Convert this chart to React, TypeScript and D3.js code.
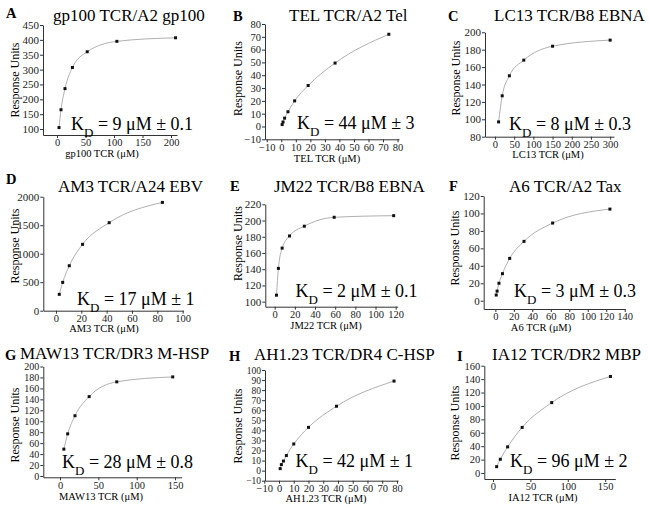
import * as d3 from 'd3';
import { useEffect, useRef } from 'react';

// panel text
const panelLetters = ['A', 'B', 'C', 'D', 'E', 'F', 'G', 'H', 'I'];
const panelTitles = [
  'gp100 TCR/A2 gp100', 'TEL TCR/A2 Tel', 'LC13 TCR/B8 EBNA',
  'AM3 TCR/A24 EBV', 'JM22 TCR/B8 EBNA', 'A6 TCR/A2 Tax',
  'MAW13 TCR/DR3 M-HSP', 'AH1.23 TCR/DR4 C-HSP', 'IA12 TCR/DR2 MBP'
];
const xAxisNames = [
  'gp100 TCR (μM)', 'TEL TCR (μM)', 'LC13 TCR (μM)',
  'AM3 TCR (μM)', 'JM22 TCR (μM)', 'A6 TCR (μM)',
  'MAW13 TCR (μM)', 'AH1.23 TCR (μM)', 'IA12 TCR (μM)'
];
const kdValues = ['9', '44', '8', '17', '2', '3', '28', '42', '96'];
const kdErrors = ['0.1', '3', '0.3', '1', '0.1', '0.3', '0.8', '1', '2'];

// tick labels
const xTicks = [
  [0, 50, 100, 150, 200],
  [-10, 0, 10, 20, 30, 40, 50, 60, 70, 80],
  [0, 50, 100, 150, 200, 250, 300],
  [0, 20, 40, 60, 80, 100],
  [0, 20, 40, 60, 80, 100, 120],
  [0, 20, 40, 60, 80, 100, 120, 140],
  [0, 50, 100, 150],
  [-10, 0, 10, 20, 30, 40, 50, 60, 70, 80],
  [0, 50, 100, 150]
];
const yTicks = [
  [100, 150, 200, 250, 300, 350, 400, 450],
  [-10, 0, 10, 20, 30, 40, 50, 60, 70, 80],
  [80, 100, 120, 140, 160, 180, 200],
  [0, 500, 1000, 1500, 2000],
  [100, 120, 140, 160, 180, 200, 220],
  [0, 20, 40, 60, 80, 100, 120],
  [0, 20, 40, 60, 80, 100, 120, 140, 160, 180, 200],
  [-10, 0, 10, 20, 30, 40, 50, 60, 70, 80, 90, 100],
  [0, 20, 40, 60, 80, 100, 120, 140, 160]
];

// TCR concentration (uM) and response units, one pair per panel
const concA = [3.5, 7, 14, 27, 53, 105, 208];
const respA = [105, 165, 236, 307, 360, 395, 407];
const concB = [0.6, 1.2, 2.3, 4.6, 9.2, 18.5, 37, 74];
const respB = [1.5, 3.5, 6.5, 11.5, 20, 32, 49.5, 72];
const concC = [9.4, 18.8, 37.5, 75, 150, 300];
const respC = [97, 127, 150, 168, 184, 191];
const concD = [2.6, 5.3, 10.5, 21, 42, 84];
const respD = [287, 497, 789, 1164, 1544, 1900];
const concE = [1.8, 3.7, 7.4, 14.7, 29.4, 59, 118];
const respE = [108, 141, 166, 181, 193, 204, 206];
const concF = [0.97, 1.9, 3.9, 7.7, 15.5, 31, 62, 124];
const respF = [6.5, 11, 20, 31, 48.5, 68, 89, 105];
const concG = [5, 10, 19.5, 38, 74, 147];
const respG = [49, 77, 110, 145, 172, 181];
const concH = [0.8, 1.6, 3, 5, 10, 20, 39, 78];
const respH = [2, 6, 9.5, 15, 26.5, 43, 64, 89];
const concI = [4.9, 9.8, 19.6, 39, 78.5, 157];
const respI = [9.5, 20.5, 39, 68, 105, 144];

const concs = [concA, concB, concC, concD, concE, concF, concG, concH, concI];
const resps = [respA, respB, respC, respD, respE, respF, respG, respH, respI];

// page geometry of each panel (pixels) and the axis extents
const layout = [
  { x0: 43, x1: 177, xd: [-24.6, 210.5], y0: 25, y1: 135, yd: [80, 450], yf: 11, letter: [6, 18], title: [53, 20.7], kd: [71, 130], xl: [102, 157], yl: [15, 80] },
  { x0: 265, x1: 399, xd: [-11.2, 81], y0: 24, y1: 139.3, yd: [-10, 80], yf: 10.5, letter: [233, 21], title: [289, 20.7], kd: [297, 129.3], xl: [327, 161.5], yl: [237.7, 78.5] },
  { x0: 485, x1: 614, xd: [-26, 310], y0: 32.3, y1: 136.7, yd: [80, 200], yf: 11, letter: [448, 21], title: [494, 21], kd: [509, 130], xl: [548, 158], yl: [455.3, 78] },
  { x0: 43.3, x1: 183.3, xd: [-10, 100.5], y0: 196.7, y1: 310.7, yd: [0, 2000], yf: 11, letter: [6, 184], title: [58, 191.7], kd: [77, 305], xl: [104, 332], yl: [15, 246] },
  { x0: 265.3, x1: 397.7, xd: [-9.3, 122], y0: 204.3, y1: 306.7, yd: [93.8, 220], yf: 11, letter: [230, 190.7], title: [274, 191.7], kd: [295.5, 296.7], xl: [326, 328.5], yl: [237.7, 243.5] },
  { x0: 483.7, x1: 625, xd: [-12.6, 140.3], y0: 196, y1: 309, yd: [-9.5, 120], yf: 11, letter: [449, 191], title: [509, 191.7], kd: [514, 296.7], xl: [541, 330.5], yl: [454.7, 248] },
  { x0: 43.3, x1: 181.7, xd: [-21.8, 158.7], y0: 366.5, y1: 477.3, yd: [-2.4, 200], yf: 10, letter: [5, 359.5], title: [20, 358.5], kd: [62, 468.3], xl: [101, 499.5], yl: [15, 425] },
  { x0: 265, x1: 398, xd: [-9.5, 80.7], y0: 370, y1: 480.7, yd: [-10, 100], yf: 9.5, letter: [229, 360.5], title: [254, 360], kd: [295.5, 466.7], xl: [326, 502], yl: [237.7, 426] },
  { x0: 484.3, x1: 615.3, xd: [-11.6, 163.5], y0: 365.7, y1: 479, yd: [-8.9, 160], yf: 10.5, letter: [457, 360.5], title: [492, 360], kd: [510, 466.7], xl: [543, 500.5], yl: [454.7, 423] }
];

const serif = '"Liberation Serif", "Times New Roman", Times, serif';

export default function App() {
  const ref = useRef<SVGSVGElement>(null);

  useEffect(() => {
    const svg = d3.select(ref.current);
    svg.selectAll('*').remove();

    layout.forEach((p, i) => {
      const g = svg.append('g');
      const x = d3.scaleLinear().domain(p.xd).range([p.x0, p.x1]);
      const y = d3.scaleLinear().domain(p.yd).range([p.y1, p.y0]);

      const xAxis = g.append('g')
        .attr('transform', `translate(0,${p.y1})`)
        .call(d3.axisBottom(x).tickValues(xTicks[i]).tickSize(3).tickSizeOuter(0).tickPadding(1).tickFormat(d3.format('d')));
      const yAxis = g.append('g')
        .attr('transform', `translate(${p.x0},0)`)
        .call(d3.axisLeft(y).tickValues(yTicks[i]).tickSize(3).tickSizeOuter(0).tickPadding(1).tickFormat(d3.format('d')));

      xAxis.selectAll('text').style('font-family', serif).style('font-size', '10.5px').attr('fill', '#222');
      yAxis.selectAll('text').style('font-family', serif).style('font-size', `${p.yf}px`).attr('fill', '#222');
      [xAxis, yAxis].forEach(a => {
        a.attr('font-family', null);
        a.selectAll('line').attr('stroke', '#333');
        a.select('.domain').attr('stroke', '#333');
      });

      const pts = concs[i].map((c, k) => [c, resps[i][k]] as [number, number]);

      g.append('path')
        .datum(pts)
        .attr('fill', 'none')
        .attr('stroke', '#b0b0b0')
        .attr('stroke-width', 1)
        .attr('d', d3.line().x(d => x(d[0])).y(d => y(d[1])).curve(d3.curveMonotoneX));

      g.selectAll('rect.pt')
        .data(pts)
        .join('rect')
        .attr('class', 'pt')
        .attr('x', d => x(d[0]) - 1.5)
        .attr('y', d => y(d[1]) - 1.5)
        .attr('width', 3)
        .attr('height', 3)
        .attr('fill', '#111');

      g.append('text')
        .attr('x', p.letter[0]).attr('y', p.letter[1])
        .style('font-family', serif).style('font-weight', '700').style('font-size', '14.5px')
        .text(panelLetters[i]);

      g.append('text')
        .attr('x', p.title[0]).attr('y', p.title[1])
        .style('font-family', serif).style('font-size', '17px')
        .text(panelTitles[i]);

      const kd = g.append('text')
        .attr('x', p.kd[0]).attr('y', p.kd[1])
        .style('font-family', serif).style('font-size', '18px');
      kd.append('tspan').text('K');
      kd.append('tspan').attr('dy', 7).style('font-size', '13px').text('D');
      kd.append('tspan').attr('dy', -7).text(` = ${kdValues[i]} μM ± ${kdErrors[i]}`);

      g.append('text')
        .attr('x', p.xl[0]).attr('y', p.xl[1])
        .attr('text-anchor', 'middle')
        .style('font-family', serif).style('font-size', '10.5px')
        .text(xAxisNames[i]);

      g.append('text')
        .attr('transform', `translate(${p.yl[0]},${p.yl[1]}) rotate(-90)`)
        .attr('text-anchor', 'middle')
        .attr('dy', '0.35em')
        .style('font-family', serif).style('font-size', '12px')
        .text('Response Units');
    });
  }, []);

  return (
    <svg ref={ref} width={649} height={508}
      style={{ position: 'absolute', left: 0, top: 0, background: '#fff' }} />
  );
}
